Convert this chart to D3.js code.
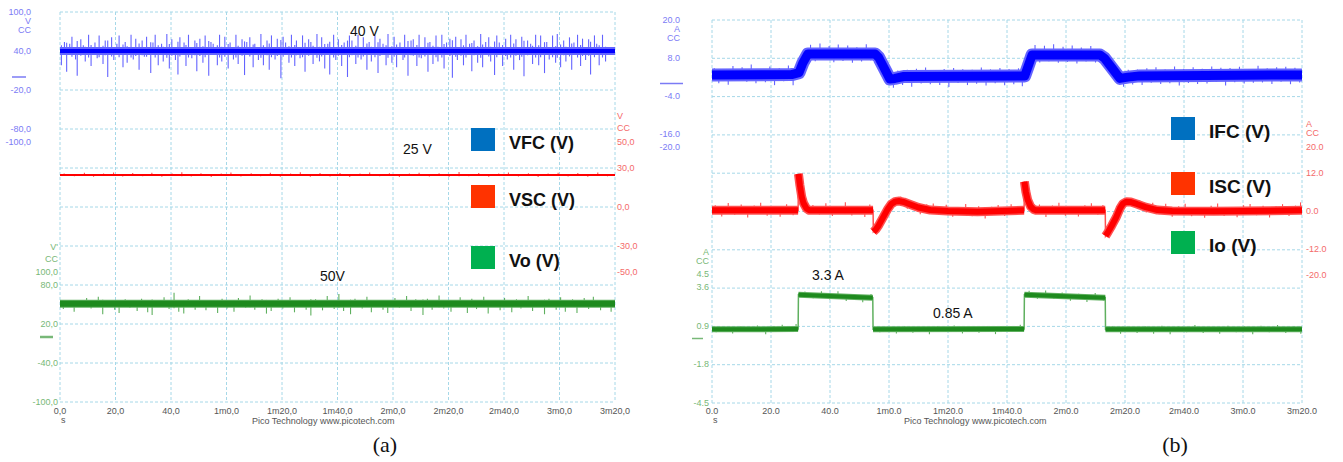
<!DOCTYPE html>
<meta charset="utf-8">
<style>
    body { margin: 0; background: #fff; }
    .grid line { stroke: #a6d8e8; stroke-dasharray: 3,2; stroke-width: 1; }
    text { font-family: Arial, "Liberation Sans", sans-serif; }
    .tick { font-size: 9px; fill: #555; }
    .legend text { font-size: 18px; font-weight: bold; fill: #111; }
    .note { font-size: 14px; fill: #111; }
    .caption { font-family: "Liberation Serif", "Times New Roman", serif; font-size: 22px; fill: #111; }
</style>
<svg width="1343" height="462"></svg>
<script src="https://cdnjs.cloudflare.com/ajax/libs/d3/7.8.5/d3.min.js"></script>
<script>
    // time axis (seconds) and the scope's labels
    var tickSeconds = [0, 20, 40, 60, 80, 100, 120, 140, 160, 180, 200];
    var tickLabelsA = ["0,0", "20,0", "40,0", "1m0,0", "1m20,0", "1m40,0", "2m0,0", "2m20,0", "2m40,0", "3m0,0", "3m20,0"];
    var tickLabelsB = ["0.0", "20.0", "40.0", "1m0.0", "1m20.0", "1m40.0", "2m0.0", "2m20.0", "2m40.0", "3m0.0", "3m20.0"];

    // channel scale labels
    var vfcTicks = [100, 40, -20, -80, -100];
    var vscTicks = [50, 30, 0, -30, -50];
    var voTicks = [100, 80, 20, -40, -100];
    var ifcTicks = [20, 8, -4, -16, -20];
    var iscTicks = [20, 12, 0, -12, -20];
    var ioTicks = [4.5, 3.6, 0.9, -1.8, -4.5];

    // panel (a): levels [seconds, volts]
    var vfcLevel = [[0, 40], [200, 40]];
    var vscLevel = [[0, 24.6], [200, 24.6]];
    var voLevel = [[0, 51], [200, 51]];

    // glitches: times (s) and deviations
    var vfcSpikeTimes = [0.5, 1.6, 2.4, 3.5, 4.3, 5.6, 6.2, 7.5, 8.4, 9.1, 10.3, 11.2, 12.6, 13.4, 14.1, 15.5, 16.3, 17.2, 18.6, 19.4, 20.5, 21.3, 22.7, 23.5, 24.2, 25.6, 26.4, 27.3, 28.5, 29.6, 30.4, 31.2, 32.7, 33.5, 34.3, 35.4, 36.6, 37.2, 38.5, 39.4, 40.3, 41.6, 42.5, 43.2, 44.7, 45.4, 46.3, 47.5, 48.6, 49.3, 50.4, 51.5, 52.3, 53.6, 54.4, 55.2, 56.7, 57.5, 58.3, 59.4, 60.6, 61.3, 62.5, 63.4, 64.2, 65.6, 66.5, 67.3, 68.4, 69.6, 70.2, 71.5, 72.4, 73.3, 74.6, 75.4, 76.2, 77.5, 78.3, 79.6, 80.4, 81.3, 82.5, 83.4, 84.6, 85.2, 86.5, 87.4, 88.3, 89.6, 90.4, 91.2, 92.6, 93.5, 94.3, 95.4, 96.5, 97.2, 98.6, 99.4, 100.3, 101.5, 102.4, 103.6, 104.3, 105.2, 106.6, 107.4, 108.5, 109.3, 110.6, 111.4, 112.2, 113.5, 114.6, 115.3, 116.4, 117.5, 118.2, 119.6, 120.4, 121.3, 122.5, 123.6, 124.2, 125.4, 126.5, 127.3, 128.6, 129.4, 130.2, 131.5, 132.6, 133.3, 134.4, 135.5, 136.2, 137.6, 138.4, 139.3, 140.5, 141.4, 142.6, 143.2, 144.5, 145.4, 146.3, 147.6, 148.4, 149.2, 150.5, 151.6, 152.3, 153.4, 154.5, 155.2, 156.6, 157.4, 158.3, 159.5, 160.6, 161.2, 162.4, 163.5, 164.3, 165.6, 166.4, 167.2, 168.5, 169.6, 170.3, 171.4, 172.5, 173.2, 174.6, 175.4, 176.3, 177.5, 178.6, 179.2, 180.4, 181.5, 182.3, 183.6, 184.4, 185.2, 186.5, 187.6, 188.3, 189.4, 190.5, 191.2, 192.6, 193.4, 194.3, 195.5, 196.6, 197.2, 198.4, 199.5];
    var vfcSpikeDevs = [-22, 14, -32, 11, 22, -13, -38, 18, 9, -16, 25, -23, 13, -11, 24, -20, 16, -40, 21, -14, 11, 24, -25, 14, -18, 25, -13, 19, -29, 16, -9, 22, -34, 13, 25, -22, 11, -16, 26, -27, 18, -14, -36, 21, 13, -23, 25, -11, 16, -31, 19, -18, 24, -38, 14, 11, -22, 25, -16, 22, -27, 13, -13, 25, -20, 18, -37, 14, 21, -25, 11, -14, 26, -22, 16, -29, 24, -13, 19, -42, 22, 13, -18, 25, -23, 16, -11, 24, -32, 18, 14, -20, 26, -16, 21, -27, 11, -36, 25, -14, 18, -23, 13, -40, 24, 16, -20, 25, -13, 21, -29, 14, -16, 24, -34, 19, 11, -22, 26, -18, 22, -25, 13, -14, 25, -38, 16, 18, -23, 25, -11, 21, -32, 14, -20, 24, -16, 25, -27, 13, 19, -41, 22, -14, 18, -22, 25, 11, -31, 16, -18, 26, -25, 14, 21, -16, -37, 24, 13, -23, 19, -13, 25, -29, 18, -14, 22, -39, 16, 11, -20, 25, -22, 24, -34, 14, -13, 24, -18, 26, -25, 16, -16, 21, -29, 13, 25, -23, 19, -14, 18, -36, 24, 11, -22, 25, -16];

    var vscSpikes = [[1.5, 1.2], [5.2, -1], [8.8, 1.8], [12.1, -1.4], [15.7, 1.1], [19.3, 2], [22.6, -1.2], [26.2, 1.5], [29.8, -0.9], [33.1, 1.7], [36.7, -1.3], [40.4, 1.2], [43.9, 2.2], [47.3, -1.1], [50.8, 1.4], [54.5, -1.6], [58.1, 1.1], [61.6, 1.9], [65.2, -1.2], [68.9, 1.3], [72.3, -1], [75.8, 1.8], [79.4, -1.4], [83.1, 1.2], [86.6, 2.1], [90.2, -1.3], [93.7, 1.5], [97.3, -1.1], [100.9, 1.6], [104.4, -1.5], [108.1, 1.2], [111.6, 2], [115.2, -1], [118.7, 1.4], [122.3, -1.6], [125.9, 1.1], [129.4, 1.8], [133.1, -1.2], [136.6, 1.3], [140.2, -1.4], [143.8, 2.3], [147.3, -1], [150.9, 1.5], [154.5, -1.3], [158.1, 1.2], [161.6, 1.9], [165.2, -1.1], [168.8, 1.4], [172.3, -1.5], [175.9, 1.1], [179.5, 1.7], [183.1, -1.2], [186.6, 1.6], [190.2, -1.3], [193.8, 2], [197.3, -1]];

    var voSpikes = [[1.2, -8], [3.4, 6], [5.1, -12], [7.3, -5], [9.6, 9], [11.2, -7], [13.8, 11], [15.4, -16], [17.1, 5], [19.7, -9], [21.3, -14], [23.5, 7], [25.2, -6], [27.8, -11], [29.4, 8], [31.6, -13], [33.2, -17], [35.9, 6], [37.5, 10], [39.3, -8], [41.1, 17], [42.8, -12], [44.6, -15], [46.2, 7], [48.7, -9], [50.3, 12], [52.6, -10], [54.1, 6], [56.8, -14], [58.4, 8], [60.2, -7], [62.7, -12], [64.3, 9], [66.9, -6], [68.5, 13], [70.2, -9], [72.8, 7], [74.4, -15], [76.1, -11], [78.6, 8], [80.3, -7], [82.9, 10], [84.5, -13], [86.2, 6], [88.7, -9], [90.4, -18], [92.1, 7], [94.6, -10], [96.3, 12], [98.8, -8], [100.5, 15], [102.2, -11], [104.7, -16], [106.3, 8], [108.9, -7], [110.6, 11], [112.2, -13], [114.8, 6], [116.4, -9], [118.1, -14], [120.7, 9], [122.3, -6], [124.9, 12], [126.5, -11], [128.2, 7], [130.8, -17], [132.4, 8], [134.1, -9], [136.6, 13], [138.3, -7], [140.9, -12], [142.5, 6], [144.2, 10], [146.8, -14], [148.4, 8], [150.1, -8], [152.7, 11], [154.3, -15], [156.9, 6], [158.6, -10], [160.2, 9], [162.8, -13], [164.5, 7], [166.1, -7], [168.7, 12], [170.3, -11], [172.9, 6], [174.6, -16], [176.2, 8], [178.8, -9], [180.4, 10], [182.1, -12], [184.7, 7], [186.3, -14], [188.9, 9], [190.5, -8], [192.2, 11], [194.8, -10], [196.4, 6], [198.6, -12]];

    // panel (b): levels [seconds, amps]
    var ifcLevel = [[0, 2.7], [27, 2.8], [29.5, 3.4], [30.8, 6.5], [32.5, 9.3], [55.3, 9.3], [56.5, 8.2], [58, 5.5], [60.3, 1.4], [62, 1.6], [65, 2.2], [106, 2.4], [107, 5], [108.5, 9.0], [131.5, 9.0], [133, 8], [135.5, 5], [138.3, 1.6], [141, 2], [145, 2.4], [200, 2.7]];
    var iscLevel = [[0, 0.2], [29.2, 0.2], [29.3, 11.6], [29.8, 8], [30.4, 4.5], [31, 2.5], [32, 0.8], [33, 0.2], [54.6, 0.2], [54.7, -6.5], [55.5, -5.8], [56.5, -4.5], [58, -2], [59.5, 0.5], [60.8, 2.2], [62.2, 3.0], [63.5, 3.1], [65, 2.8], [67, 2.1], [70, 1.1], [74, 0.3], [80, 0], [90, -0.2], [105.8, 0.2], [105.9, 9.2], [106.4, 6], [107, 3.5], [108, 1.4], [109, 0.5], [110, 0.2], [133.3, 0.2], [133.4, -7.8], [134.3, -6.5], [135.5, -4.6], [137, -2], [138.3, 0.8], [139.3, 2.3], [140.5, 2.9], [142, 2.8], [144, 2.2], [147, 1.2], [151, 0.3], [156, 0], [170, -0.1], [200, 0.2]];
    var ioLevel = [[0, 0.64], [29.2, 0.66], [29.3, 3.05], [54.5, 2.85], [54.6, 0.64], [105.8, 0.66], [105.9, 3.05], [133.3, 2.85], [133.4, 0.64], [200, 0.64]];

    var ifcSpikes = [[0.8, 2.1], [2.3, -2.6], [3.9, 1.7], [5.5, -3.1], [7.1, 2.8], [8.6, -1.9], [10.2, 2.4], [11.8, -2.2], [13.3, 3.2], [14.9, -2.7], [16.5, 1.8], [18.1, -2.4], [19.6, 2.6], [21.2, -3.3], [22.8, 2.0], [24.3, -2.1], [25.9, 2.9], [27.5, -3.5], [28.6, 2.4], [31, 2.2], [33.4, 2.9], [35, -2.3], [36.6, 3.3], [38.1, -1.9], [39.7, 2.5], [41.3, -2.6], [42.8, 3.0], [44.4, -2.2], [46, 2.7], [47.6, -2.8], [49.1, 2.1], [50.7, -2.4], [52.3, 3.1], [53.8, -2.0], [56.2, -2.5], [59, 2.0], [61.5, -2.9], [63, 2.3], [64.6, -2.6], [66.2, 2.1], [67.7, -3.2], [69.3, 2.4], [70.9, -2.2], [72.4, 2.8], [74, -2.5], [75.6, 1.9], [77.2, -2.7], [78.7, 2.3], [80.3, -3.4], [81.9, 2.6], [83.4, -2.1], [85, 2.2], [86.6, -2.8], [88.2, 2.0], [89.7, -2.4], [91.3, 2.7], [92.9, -3.0], [94.4, 2.1], [96, -2.3], [97.6, 2.5], [99.2, -2.9], [100.7, 2.2], [102.3, -2.6], [103.9, 2.4], [105.2, -3.3], [107, 2.8], [109.5, 3.1], [111.1, -2.4], [112.7, 2.9], [114.2, -2.0], [115.8, 3.4], [117.4, -2.5], [119, 2.6], [120.5, -2.2], [122.1, 3.0], [123.7, -2.7], [125.2, 2.3], [126.8, -2.1], [128.4, 2.8], [130, -2.4], [132.8, 2.0], [136, -2.2], [139.5, -2.8], [141.1, 2.3], [142.6, -2.5], [144.2, 2.1], [145.8, -2.9], [147.4, 2.4], [148.9, -2.2], [150.5, 2.7], [152.1, -2.6], [153.6, 2.0], [155.2, -2.4], [156.8, 2.9], [158.4, -3.1], [159.9, 2.2], [161.5, -2.3], [163.1, 2.6], [164.6, -2.7], [166.2, 2.1], [167.8, -2.5], [169.4, 2.8], [170.9, -2.0], [172.5, 2.4], [174.1, -3.2], [175.6, 2.3], [177.2, -2.2], [178.8, 2.7], [180.4, -2.6], [181.9, 2.0], [183.5, -2.4], [185.1, 3.0], [186.6, -2.3], [188.2, 2.2], [189.8, -2.8], [191.4, 2.5], [192.9, -2.1], [194.5, 2.6], [196.1, -2.9], [197.6, 2.3], [199.2, -2.4]];
    var iscSpikes = [[1.1, 1.6], [3.3, -1.9], [5.5, 2.3], [7.7, -1.4], [9.9, 1.8], [12.1, -2.2], [14.3, 1.5], [16.5, 2.4], [18.7, -1.7], [20.9, 1.3], [23.1, -2.0], [25.3, 1.9], [27.5, -1.5], [34.2, 1.7], [36.4, -1.3], [38.6, 2.2], [40.8, -1.8], [43, 1.4], [45.2, 2.5], [47.4, -1.6], [49.6, 1.2], [51.8, -2.1], [53.5, 1.8], [64, 1.5], [66.2, -1.7], [68.4, 1.3], [70.6, -2.0], [72.8, 1.6], [75, 2.1], [77.2, -1.4], [79.4, 1.9], [81.6, -1.8], [83.8, 1.2], [86, 2.3], [88.2, -1.5], [90.4, 1.7], [92.6, -2.2], [94.8, 1.4], [97, 1.9], [99.2, -1.6], [101.4, 2.0], [103.6, -1.3], [111, 1.8], [113.2, -2.1], [115.4, 1.5], [117.6, 2.4], [119.8, -1.7], [122, 1.3], [124.2, -1.9], [126.4, 1.6], [128.6, 2.2], [130.8, -1.4], [132.5, 1.7], [145, 1.4], [147.2, -1.6], [149.4, 1.9], [151.6, -1.3], [153.8, 2.1], [156, -1.8], [158.2, 1.5], [160.4, 2.3], [162.6, -1.6], [164.8, 1.2], [167, -2.0], [169.2, 1.7], [171.4, 2.4], [173.6, -1.5], [175.8, 1.3], [178, -1.9], [180.2, 1.8], [182.4, 2.2], [184.6, -1.4], [186.8, 1.6], [189, -2.1], [191.2, 1.4], [193.4, 2.0], [195.6, -1.7], [197.8, 1.5], [199.5, 2.5]];
    var ioSpikes = [[1.4, -0.2], [4.2, 0.15], [7, -0.3], [9.8, 0.2], [12.6, -0.15], [15.4, 0.25], [18.2, -0.35], [21, 0.2], [23.8, 0.3], [26.6, -0.2], [28.5, 0.35], [31.5, 0.25], [34.3, -0.2], [37.1, 0.3], [39.9, -0.25], [42.7, 0.35], [45.5, -0.3], [48.3, 0.2], [51.1, -0.35], [53.9, 0.25], [56.9, -0.2], [59.7, 0.15], [62.5, -0.3], [65.3, 0.2], [68.1, -0.25], [70.9, 0.15], [73.7, -0.35], [76.5, 0.2], [79.3, -0.2], [82.1, 0.25], [84.9, -0.3], [87.7, 0.15], [90.5, -0.25], [93.3, 0.2], [96.1, -0.35], [98.9, 0.2], [101.7, -0.2], [104.5, 0.3], [107.5, 0.3], [110.3, -0.25], [113.1, 0.35], [115.9, -0.2], [118.7, 0.25], [121.5, -0.3], [124.3, 0.2], [127.1, -0.35], [129.9, 0.3], [132.7, -0.2], [135.7, 0.2], [138.5, -0.3], [141.3, 0.15], [144.1, -0.25], [146.9, 0.2], [149.7, -0.3], [152.5, 0.25], [155.3, -0.35], [158.1, 0.2], [160.9, -0.2], [163.7, 0.3], [166.5, -0.25], [169.3, 0.15], [172.1, -0.3], [174.9, 0.25], [177.7, -0.2], [180.5, 0.2], [183.3, -0.35], [186.1, 0.25], [188.9, -0.2], [191.7, 0.3], [194.5, -0.25], [197.3, 0.2], [199.6, -0.3]];

    var svg = d3.select("svg");

    var blue = "#0000ff", blueLt = "#6464ff", blueLbl = "#7b7bf5";
    var red = "#ff0000", redLt = "#ff5050", redLbl = "#f46a6a";
    var green = "#1e8a1e", greenLt = "#5fb05f", greenLbl = "#78b878";

    function levelAt(pts, t) {
        for (var i = 1; i < pts.length; i++) {
            if (t <= pts[i][0]) {
                var a = pts[i - 1], b = pts[i];
                var k = (t - a[0]) / (b[0] - a[0] || 1);
                return a[1] + k * (b[1] - a[1]);
            }
        }
        return pts[pts.length - 1][1];
    }

    // split at near-vertical jumps so only flat parts get the thick band
    function runs(pts) {
        var out = [[pts[0]]];
        for (var i = 1; i < pts.length; i++) {
            if (pts[i][0] - pts[i - 1][0] < 0.15) out.push([]);
            out[out.length - 1].push(pts[i]);
        }
        return out.filter(function (r) { return r.length > 1; });
    }

    function drawGrid(x0, x1, y0, y1) {
        var g = svg.append("g").attr("class", "grid");
        var gx = d3.scaleLinear([0, 10], [x0, x1]);
        var gy = d3.scaleLinear([0, 10], [y0, y1]);
        g.selectAll(".v").data(d3.range(11)).enter().append("line")
            .attr("x1", gx).attr("x2", gx).attr("y1", y0).attr("y2", y1);
        g.selectAll(".h").data(d3.range(11)).enter().append("line")
            .attr("y1", gy).attr("y2", gy).attr("x1", x0).attr("x2", x1);
    }

    function drawTrace(x, y, level, spikes, color, light, band, halo) {
        var line = d3.line().x(function (d) { return x(d[0]); }).y(function (d) { return y(d[1]); });
        var g = svg.append("g");
        var parts = runs(level);
        if (halo) {
            g.selectAll(".halo").data(parts).enter().append("path")
                .attr("d", line).attr("fill", "none").attr("stroke", light)
                .attr("stroke-width", halo).attr("stroke-linejoin", "round");
        }
        g.selectAll(".sp").data(spikes).enter().append("line")
            .attr("x1", function (d) { return x(d[0]); })
            .attr("x2", function (d) { return x(d[0]); })
            .attr("y1", function (d) { return y(levelAt(level, d[0]) - 0.4 * d[1]); })
            .attr("y2", function (d) { return y(levelAt(level, d[0]) + d[1]); })
            .attr("stroke", light).attr("stroke-width", 1.1);
        g.append("path").attr("d", line(level))
            .attr("fill", "none").attr("stroke", light).attr("stroke-width", 1.5);
        g.selectAll(".band").data(parts).enter().append("path")
            .attr("d", line)
            .attr("fill", "none").attr("stroke", color)
            .attr("stroke-width", band).attr("stroke-linejoin", "round");
    }

    function drawScale(y, ticks, fmt, xPos, anchor, color, units, zero) {
        var g = svg.append("g").attr("fill", color).style("font-size", "9px").attr("text-anchor", anchor);
        g.selectAll("text").data(ticks).enter().append("text")
            .attr("x", xPos).attr("y", function (d) { return y(d) + 3; })
            .text(fmt);
        units.forEach(function (u) {
            g.append("text").attr("x", xPos).attr("y", y(ticks[0]) + 3 + u[1]).text(u[0]);
        });
        if (zero) {
            svg.append("line").attr("x1", zero[0]).attr("x2", zero[1])
                .attr("y1", y(0)).attr("y2", y(0))
                .attr("stroke", color).attr("stroke-width", zero[2]);
        }
    }

    function drawTimeAxis(x, labels, yPos) {
        var g = svg.append("g").attr("class", "tick").attr("text-anchor", "middle");
        g.selectAll("text").data(tickSeconds).enter().append("text")
            .attr("x", x).attr("y", yPos)
            .text(function (d, i) { return labels[i]; });
        svg.append("text").attr("class", "tick").attr("x", x(0) + 1).attr("y", yPos + 9).text("s");
        svg.append("text").attr("class", "tick").attr("x", x(0) + 192).attr("y", yPos + 10)
            .text("Pico Technology  www.picotech.com");
    }

    function drawLegend(x, tops, names, size) {
        var cols = ["#0070c0", "#ff3300", "#00b050"];
        var g = svg.append("g").attr("class", "legend");
        g.selectAll("rect").data(names).enter().append("rect")
            .attr("x", x).attr("y", function (d, i) { return tops[i]; })
            .attr("width", 24).attr("height", 23)
            .attr("fill", function (d, i) { return cols[i]; });
        g.selectAll("text").data(names).enter().append("text")
            .attr("x", x + 38).attr("y", function (d, i) { return tops[i] + 21; })
            .style("font-size", size + "px")
            .text(function (d) { return d; });
    }

    var fmtA = function (v) { return v.toFixed(1).replace(".", ","); };
    var fmtB = function (v) { return v.toFixed(1); };

    // ---------- panel (a)
    var xa = d3.scaleLinear([0, 200], [60, 615]);
    var vfcY = d3.scaleLinear([100, -100], [12, 142]);
    var vscY = d3.scaleLinear([50, -50], [142, 272]);
    var voY = d3.scaleLinear([100, -100], [272, 402]);

    drawGrid(60, 615, 12, 402);
    drawTrace(xa, vscY, vscLevel, vscSpikes, red, redLt, 2, 0);
    drawTrace(xa, voY, voLevel, voSpikes, green, greenLt, 6, 8);
    drawTrace(xa, vfcY, vfcLevel, d3.zip(vfcSpikeTimes, vfcSpikeDevs), blue, blueLt, 4, 8);
    drawScale(vfcY, vfcTicks, fmtA, 31, "end", blueLbl, [["V", 9], ["CC", 18]], [12, 26, 1.5]);
    drawScale(vscY, vscTicks, fmtA, 617, "start", redLbl, [["V", -26], ["CC", -14]], null);
    drawScale(voY, voTicks, fmtA, 58, "end", greenLbl, [["V'", -25], ["CC", -13]], [40, 53, 2.5]);
    drawTimeAxis(xa, tickLabelsA, 414);
    drawLegend(471, [128, 185, 246], ["VFC (V)", "VSC (V)", "Vo (V)"], 18);

    svg.append("text").attr("class", "note").attr("x", 350).attr("y", 36).text("40 V");
    svg.append("text").attr("class", "note").attr("x", 403).attr("y", 154).text("25 V");
    svg.append("text").attr("class", "note").attr("x", 320).attr("y", 281).text("50V");
    svg.append("text").attr("class", "caption").attr("x", 385).attr("y", 452).attr("text-anchor", "middle").text("(a)");

    // ---------- panel (b)
    var xb = d3.scaleLinear([0, 200], [712, 1302]);
    var ifcY = d3.scaleLinear([20, -20], [20, 147]);
    var iscY = d3.scaleLinear([20, -20], [147, 275]);
    var ioY = d3.scaleLinear([4.5, -4.5], [274, 403]);

    drawGrid(712, 1302, 20, 403);
    drawTrace(xb, iscY, iscLevel, iscSpikes, red, redLt, 6, 9);
    drawTrace(xb, ioY, ioLevel, ioSpikes, green, greenLt, 4, 6);
    drawTrace(xb, ifcY, ifcLevel, ifcSpikes, blue, blueLt, 9, 13);
    drawScale(ifcY, ifcTicks, fmtB, 680, "end", blueLbl, [["A", 9], ["CC", 18]], [660, 683, 1.5]);
    drawScale(iscY, iscTicks, fmtB, 1306, "start", redLbl, [["A", -23], ["CC", -14]], null);
    drawScale(ioY, ioTicks, fmtB, 709, "end", greenLbl, [["A", -22], ["CC", -13]], [692, 703, 1.5]);
    drawTimeAxis(xb, tickLabelsB, 414);
    drawLegend(1171, [117, 172, 231], ["IFC (V)", "ISC (V)", "Io (V)"], 19);

    svg.append("text").attr("class", "note").attr("x", 812).attr("y", 280).text("3.3 A");
    svg.append("text").attr("class", "note").attr("x", 933).attr("y", 318).text("0.85 A");
    svg.append("text").attr("class", "caption").attr("x", 1175).attr("y", 452).attr("text-anchor", "middle").text("(b)");
</script>
